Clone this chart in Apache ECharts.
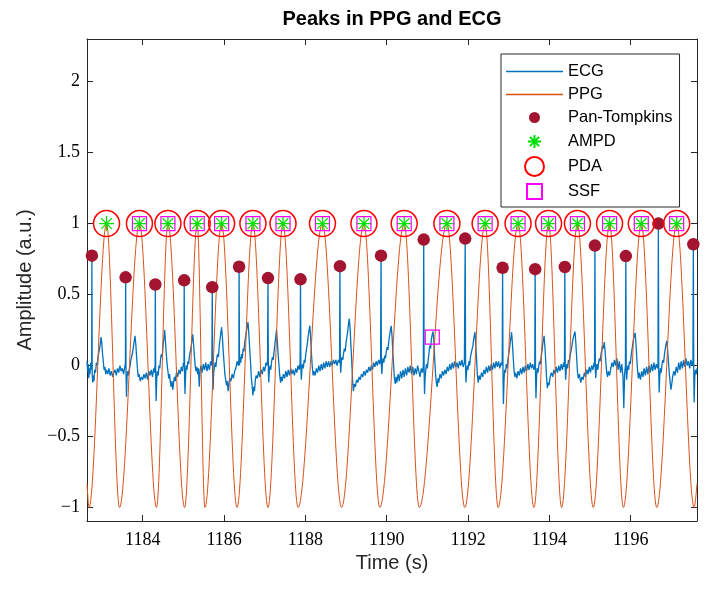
<!DOCTYPE html>
<html>
<head>
<meta charset="utf-8">
<script src="https://cdn.jsdelivr.net/npm/echarts@6/dist/echarts.min.js"></script>
<style>
html, body { margin: 0; padding: 0; background: #fff; }
#main { width: 711px; height: 590px; }
</style>
</head>
<body>
<div id="main"></div>
<script>
// axis ranges (s, a.u.)
const timeRange = [1182.63, 1197.63];
const ampRange = [-1.095, 2.3];

// Pan-Tompkins R peaks
const rPeakTimes = [1182.75, 1183.58, 1184.31, 1185.02, 1185.71, 1186.37, 1187.08, 1187.88, 1188.85, 1189.86,
    1190.91, 1191.93, 1192.85, 1193.65, 1194.38, 1195.12, 1195.88, 1196.68, 1197.54];
const rPeakValues = [0.774, 0.621, 0.571, 0.60, 0.552, 0.696, 0.616, 0.607, 0.70, 0.774,
    0.887, 0.894, 0.689, 0.679, 0.694, 0.845, 0.771, 1.0, 0.854];

// PPG peaks (AMPD / PDA / SSF) and troughs
const ppgPeakTimes = [1183.11, 1183.92, 1184.62, 1185.34, 1185.94, 1186.71, 1187.45, 1188.42, 1189.44,
    1190.43, 1191.48, 1192.42, 1193.23, 1193.98, 1194.69, 1195.48, 1196.26, 1197.13];
const ppgTroughTimes = [1182.68, 1183.43, 1184.34, 1185.03, 1185.53, 1186.32, 1187.08, 1187.82, 1188.89, 1189.83,
    1190.80, 1191.92, 1192.74, 1193.62, 1194.30, 1195.08, 1195.82, 1196.64, 1197.56];
const ppgPeakValue = 1;
const ppgTroughValue = -1;
const ppgEdgeValues = [-0.83, -0.83];

// SSF misses the first peak and picks one point on a T wave
const ssfExtra = [[1191.12, 0.2]];

// ECG trace [time, amplitude]
const ecgSignal = [
    [1182.63, 0.03], [1182.645, -0.04], [1182.66, 0.01], [1182.675, -0.09], [1182.69, -0.02], [1182.705, -0.06], [1182.72, 0.02], [1182.735, -0.03], [1182.745, 0.05],
    [1182.75, 0.774], [1182.758, -0.06], [1182.77, -0.12], [1182.785, -0.07], [1182.80, -0.11], [1182.82, -0.03], [1182.84, -0.05], [1182.86, 0.02], [1182.88, 0.0], [1182.90, 0.06], [1182.92, 0.05], [1182.94, 0.12], [1182.96, 0.16], [1182.975, 0.20], [1182.99, 0.17], [1183.01, 0.09], [1183.03, 0.03], [1183.05, -0.03], [1183.07, -0.01], [1183.09, -0.06], [1183.11, -0.03], [1183.14, -0.06], [1183.17, -0.02], [1183.20, -0.07], [1183.23, -0.04], [1183.26, -0.08], [1183.29, -0.05], [1183.32, -0.03], [1183.35, -0.07], [1183.38, -0.02], [1183.41, -0.05], [1183.44, 0.0], [1183.47, -0.04], [1183.50, -0.02], [1183.53, -0.06], [1183.56, -0.01], [1183.575, 0.02],
    [1183.58, 0.621], [1183.59, -0.05], [1183.60, -0.22], [1183.615, -0.08], [1183.63, -0.04], [1183.65, -0.07], [1183.67, -0.03], [1183.69, 0.0], [1183.71, 0.04], [1183.73, 0.03], [1183.75, 0.09], [1183.77, 0.13], [1183.79, 0.17], [1183.81, 0.21], [1183.83, 0.15], [1183.85, 0.06], [1183.87, -0.02], [1183.89, -0.08], [1183.91, -0.06], [1183.94, -0.11], [1183.97, -0.08], [1184.00, -0.10], [1184.03, -0.06], [1184.06, -0.09], [1184.09, -0.05], [1184.12, -0.10], [1184.15, -0.04], [1184.18, -0.07], [1184.21, -0.03], [1184.24, -0.08], [1184.27, -0.02], [1184.29, -0.05], [1184.305, 0.01],
    [1184.31, 0.571], [1184.32, -0.10], [1184.33, -0.25], [1184.345, -0.09], [1184.36, -0.04], [1184.38, -0.07], [1184.40, 0.0], [1184.42, -0.02], [1184.44, 0.05], [1184.46, 0.08], [1184.48, 0.06], [1184.50, 0.14], [1184.52, 0.19], [1184.54, 0.25], [1184.56, 0.17], [1184.58, 0.08], [1184.60, 0.01], [1184.62, -0.04], [1184.64, -0.09], [1184.66, -0.06], [1184.68, -0.12], [1184.70, -0.15], [1184.72, -0.11], [1184.74, -0.17], [1184.76, -0.12], [1184.78, -0.08], [1184.80, -0.11], [1184.83, -0.05], [1184.86, -0.08], [1184.89, -0.03], [1184.92, -0.06], [1184.95, -0.01], [1184.98, -0.04], [1185.00, 0.02], [1185.015, -0.01],
    [1185.02, 0.60], [1185.03, -0.08], [1185.04, -0.20], [1185.055, -0.06], [1185.07, 0.0], [1185.09, -0.03], [1185.11, 0.03], [1185.13, 0.01], [1185.15, 0.07], [1185.17, 0.10], [1185.19, 0.13], [1185.21, 0.18], [1185.23, 0.22], [1185.25, 0.15], [1185.27, 0.07], [1185.29, 0.0], [1185.31, -0.04], [1185.33, -0.01], [1185.35, -0.06], [1185.37, -0.02], [1185.39, -0.15], [1185.41, -0.04], [1185.43, 0.0], [1185.46, -0.05], [1185.49, 0.01], [1185.52, -0.03], [1185.55, 0.02], [1185.58, -0.04], [1185.61, 0.01], [1185.64, -0.03], [1185.67, 0.03], [1185.70, 0.0],
    [1185.71, 0.552], [1185.72, -0.06], [1185.73, -0.17], [1185.745, -0.05], [1185.76, -0.02], [1185.78, 0.02], [1185.80, -0.01], [1185.82, 0.05], [1185.84, 0.08], [1185.86, 0.06], [1185.88, 0.13], [1185.90, 0.18], [1185.92, 0.23], [1185.94, 0.27], [1185.96, 0.20], [1185.98, 0.10], [1186.00, 0.02], [1186.02, -0.06], [1186.04, -0.10], [1186.06, -0.14], [1186.08, -0.11], [1186.10, -0.18], [1186.12, -0.13], [1186.14, -0.09], [1186.17, -0.11], [1186.20, -0.06], [1186.23, -0.09], [1186.26, -0.04], [1186.29, -0.02], [1186.32, 0.03], [1186.35, 0.0], [1186.365, 0.04],
    [1186.37, 0.696], [1186.38, 0.0], [1186.39, 0.06], [1186.41, 0.02], [1186.43, 0.08], [1186.45, 0.05], [1186.47, 0.12], [1186.49, 0.10], [1186.51, 0.17], [1186.53, 0.20], [1186.55, 0.24], [1186.57, 0.28], [1186.59, 0.305], [1186.61, 0.22], [1186.63, 0.12], [1186.65, 0.03], [1186.67, -0.08], [1186.69, -0.14], [1186.71, -0.21], [1186.73, -0.15], [1186.75, -0.18], [1186.77, -0.10], [1186.79, -0.07], [1186.82, -0.09], [1186.85, -0.04], [1186.88, -0.08], [1186.91, -0.03], [1186.94, -0.06], [1186.97, -0.01], [1187.00, -0.04], [1187.03, 0.02], [1187.05, 0.0], [1187.07, 0.03],
    [1187.08, 0.616], [1187.09, -0.04], [1187.10, -0.12], [1187.115, -0.03], [1187.13, 0.0], [1187.15, -0.03], [1187.17, 0.03], [1187.19, 0.06], [1187.21, 0.04], [1187.23, 0.10], [1187.25, 0.15], [1187.27, 0.20], [1187.29, 0.25], [1187.31, 0.17], [1187.33, 0.08], [1187.35, 0.0], [1187.37, -0.07], [1187.39, -0.12], [1187.41, -0.08], [1187.43, -0.11], [1187.46, -0.06], [1187.49, -0.09], [1187.52, -0.04], [1187.55, -0.08], [1187.58, -0.03], [1187.61, -0.07], [1187.64, -0.02], [1187.67, -0.06], [1187.70, -0.03], [1187.73, -0.07], [1187.76, -0.02], [1187.79, -0.05], [1187.82, 0.0], [1187.85, -0.03], [1187.87, 0.02],
    [1187.88, 0.607], [1187.89, -0.02], [1187.90, -0.10], [1187.915, -0.02], [1187.93, 0.01], [1187.95, -0.02], [1187.97, 0.04], [1187.99, 0.02], [1188.01, 0.08], [1188.03, 0.12], [1188.05, 0.16], [1188.07, 0.21], [1188.09, 0.25], [1188.11, 0.28], [1188.13, 0.19], [1188.15, 0.08], [1188.17, -0.01], [1188.19, -0.07], [1188.21, -0.04], [1188.24, -0.07], [1188.27, -0.02], [1188.30, -0.05], [1188.33, 0.0], [1188.36, -0.04], [1188.39, 0.01], [1188.42, -0.03], [1188.45, 0.02], [1188.48, -0.02], [1188.51, 0.03], [1188.54, -0.01], [1188.57, 0.03], [1188.60, -0.01], [1188.63, 0.03], [1188.66, 0.0], [1188.69, 0.04], [1188.72, 0.01], [1188.75, 0.04], [1188.78, 0.0], [1188.81, 0.04], [1188.84, 0.02],
    [1188.85, 0.70], [1188.86, 0.02], [1188.87, -0.05], [1188.885, 0.03], [1188.90, 0.06], [1188.92, 0.04], [1188.94, 0.09], [1188.96, 0.12], [1188.98, 0.10], [1189.00, 0.16], [1189.02, 0.20], [1189.04, 0.24], [1189.06, 0.29], [1189.08, 0.33], [1189.10, 0.26], [1189.12, 0.14], [1189.14, 0.03], [1189.16, -0.10], [1189.18, -0.18], [1189.20, -0.13], [1189.23, -0.15], [1189.26, -0.10], [1189.29, -0.12], [1189.32, -0.08], [1189.35, -0.10], [1189.38, -0.06], [1189.41, -0.08], [1189.44, -0.04], [1189.47, -0.07], [1189.50, -0.03], [1189.53, -0.05], [1189.56, -0.01], [1189.59, -0.04], [1189.62, 0.0], [1189.65, -0.03], [1189.68, 0.02], [1189.71, -0.01], [1189.74, 0.03], [1189.77, 0.0], [1189.80, 0.04], [1189.83, 0.01], [1189.85, 0.05],
    [1189.86, 0.774], [1189.87, 0.0], [1189.88, -0.06], [1189.895, 0.02], [1189.91, 0.05], [1189.93, 0.02], [1189.95, 0.07], [1189.97, 0.05], [1189.99, 0.10], [1190.01, 0.13], [1190.03, 0.11], [1190.05, 0.17], [1190.07, 0.21], [1190.09, 0.25], [1190.11, 0.28], [1190.13, 0.21], [1190.15, 0.10], [1190.17, 0.0], [1190.19, -0.09], [1190.21, -0.13], [1190.23, -0.08], [1190.25, -0.12], [1190.28, -0.06], [1190.31, -0.11], [1190.34, -0.04], [1190.37, -0.09], [1190.40, -0.03], [1190.43, -0.08], [1190.46, -0.02], [1190.49, -0.07], [1190.52, -0.01], [1190.55, -0.05], [1190.58, 0.0], [1190.61, -0.06], [1190.64, -0.01], [1190.67, -0.07], [1190.70, -0.02], [1190.73, -0.06], [1190.76, 0.0], [1190.79, -0.04], [1190.82, -0.08], [1190.85, -0.02], [1190.88, -0.05], [1190.90, 0.0],
    [1190.91, 0.887], [1190.92, -0.05], [1190.93, -0.20], [1190.945, -0.08], [1190.96, -0.03], [1190.98, 0.01], [1191.00, -0.02], [1191.02, 0.04], [1191.04, 0.09], [1191.06, 0.14], [1191.08, 0.12], [1191.10, 0.19], [1191.12, 0.22], [1191.14, 0.24], [1191.16, 0.17], [1191.18, 0.05], [1191.20, -0.06], [1191.22, -0.12], [1191.24, -0.15], [1191.26, -0.09], [1191.28, -0.12], [1191.31, -0.06], [1191.34, -0.09], [1191.37, -0.04], [1191.40, -0.07], [1191.43, -0.03], [1191.46, -0.06], [1191.49, -0.01], [1191.52, -0.04], [1191.55, 0.01], [1191.58, -0.03], [1191.61, 0.02], [1191.64, -0.02], [1191.67, 0.03], [1191.70, -0.01], [1191.73, 0.02], [1191.76, -0.02], [1191.79, 0.03], [1191.82, 0.0], [1191.85, 0.04], [1191.88, -0.01], [1191.91, 0.02],
    [1191.93, 0.894], [1191.94, -0.03], [1191.95, -0.12], [1191.965, -0.04], [1191.98, 0.0], [1192.00, -0.03], [1192.02, 0.03], [1192.04, 0.0], [1192.06, 0.06], [1192.08, 0.09], [1192.10, 0.08], [1192.12, 0.14], [1192.14, 0.19], [1192.17, 0.235], [1192.19, 0.15], [1192.21, 0.04], [1192.23, -0.07], [1192.25, -0.12], [1192.27, -0.07], [1192.30, -0.10], [1192.33, -0.05], [1192.36, -0.08], [1192.39, -0.03], [1192.42, -0.06], [1192.45, -0.01], [1192.48, -0.05], [1192.51, 0.0], [1192.54, -0.04], [1192.57, 0.01], [1192.60, -0.03], [1192.63, 0.02], [1192.66, -0.02], [1192.69, 0.03], [1192.72, -0.01], [1192.75, 0.03], [1192.78, -0.02], [1192.81, 0.02], [1192.84, 0.0],
    [1192.85, 0.689], [1192.86, -0.08], [1192.87, -0.27], [1192.885, -0.10], [1192.90, -0.03], [1192.92, -0.05], [1192.94, 0.01], [1192.96, -0.02], [1192.98, 0.04], [1193.00, 0.08], [1193.02, 0.12], [1193.04, 0.17], [1193.06, 0.21], [1193.07, 0.235], [1193.09, 0.16], [1193.11, 0.06], [1193.13, -0.03], [1193.15, -0.08], [1193.17, -0.05], [1193.20, -0.09], [1193.23, -0.04], [1193.26, -0.07], [1193.29, -0.02], [1193.32, -0.06], [1193.35, -0.01], [1193.38, -0.05], [1193.41, 0.0], [1193.44, -0.04], [1193.47, 0.01], [1193.50, -0.03], [1193.53, 0.02], [1193.56, -0.02], [1193.59, 0.01], [1193.62, -0.03], [1193.64, 0.0],
    [1193.65, 0.679], [1193.66, -0.07], [1193.67, -0.23], [1193.685, -0.08], [1193.70, -0.02], [1193.72, -0.05], [1193.74, 0.0], [1193.76, 0.03], [1193.78, 0.01], [1193.80, 0.07], [1193.82, 0.11], [1193.84, 0.16], [1193.86, 0.19], [1193.87, 0.21], [1193.89, 0.13], [1193.91, 0.03], [1193.93, -0.08], [1193.95, -0.16], [1193.97, -0.12], [1193.99, -0.14], [1194.02, -0.08], [1194.05, -0.05], [1194.08, -0.08], [1194.11, -0.03], [1194.14, -0.06], [1194.17, -0.01], [1194.20, -0.05], [1194.23, 0.0], [1194.26, -0.04], [1194.29, 0.01], [1194.32, -0.03], [1194.35, 0.02], [1194.37, -0.01],
    [1194.38, 0.694], [1194.39, -0.02], [1194.40, -0.10], [1194.415, -0.03], [1194.43, 0.01], [1194.45, -0.02], [1194.47, 0.04], [1194.49, 0.02], [1194.51, 0.07], [1194.53, 0.10], [1194.55, 0.13], [1194.57, 0.17], [1194.59, 0.20], [1194.61, 0.22], [1194.63, 0.24], [1194.65, 0.16], [1194.67, 0.06], [1194.69, -0.04], [1194.71, -0.09], [1194.74, -0.06], [1194.77, -0.12], [1194.80, -0.08], [1194.83, -0.10], [1194.86, -0.05], [1194.89, -0.08], [1194.92, -0.03], [1194.95, -0.06], [1194.98, -0.01], [1195.01, -0.05], [1195.04, 0.0], [1195.07, -0.03], [1195.10, 0.02], [1195.11, -0.01],
    [1195.12, 0.845], [1195.13, -0.03], [1195.14, -0.09], [1195.155, -0.02], [1195.17, 0.01], [1195.19, -0.03], [1195.21, 0.02], [1195.23, 0.05], [1195.25, 0.03], [1195.27, 0.08], [1195.29, 0.11], [1195.31, 0.14], [1195.33, 0.12], [1195.35, 0.165], [1195.37, 0.10], [1195.39, 0.02], [1195.41, -0.05], [1195.43, -0.08], [1195.45, -0.04], [1195.48, -0.07], [1195.51, -0.02], [1195.54, 0.02], [1195.57, -0.01], [1195.60, 0.04], [1195.63, 0.0], [1195.66, 0.05], [1195.69, -0.03], [1195.72, 0.03], [1195.75, -0.05], [1195.78, 0.01], [1195.81, -0.08], [1195.83, -0.30], [1195.85, -0.06], [1195.87, 0.0],
    [1195.88, 0.771], [1195.89, -0.04], [1195.90, -0.10], [1195.915, -0.03], [1195.93, 0.0], [1195.95, -0.03], [1195.97, 0.03], [1195.99, 0.01], [1196.01, 0.07], [1196.03, 0.11], [1196.05, 0.15], [1196.07, 0.19], [1196.09, 0.21], [1196.11, 0.23], [1196.13, 0.15], [1196.15, 0.05], [1196.17, -0.04], [1196.19, -0.09], [1196.21, -0.05], [1196.24, -0.10], [1196.27, -0.04], [1196.30, -0.08], [1196.33, -0.02], [1196.36, -0.07], [1196.39, -0.01], [1196.42, -0.06], [1196.45, 0.0], [1196.48, -0.05], [1196.51, 0.01], [1196.54, -0.04], [1196.57, 0.02], [1196.60, -0.03], [1196.63, 0.01], [1196.66, -0.02], [1196.67, 0.02],
    [1196.68, 1.0], [1196.69, -0.06], [1196.70, -0.19], [1196.715, -0.07], [1196.73, -0.02], [1196.75, -0.05], [1196.77, 0.01], [1196.79, 0.04], [1196.81, 0.02], [1196.83, 0.08], [1196.85, 0.12], [1196.87, 0.15], [1196.89, 0.175], [1196.91, 0.10], [1196.93, 0.02], [1196.95, -0.06], [1196.97, -0.12], [1196.99, -0.17], [1197.01, -0.13], [1197.03, -0.08], [1197.06, -0.04], [1197.09, -0.07], [1197.12, -0.01], [1197.15, -0.05], [1197.18, 0.02], [1197.21, -0.03], [1197.24, 0.03], [1197.27, -0.02], [1197.30, 0.04], [1197.33, -0.01], [1197.36, 0.05], [1197.39, 0.0], [1197.42, 0.03], [1197.45, -0.02], [1197.48, 0.04], [1197.51, 0.0], [1197.53, 0.03],
    [1197.54, 0.854], [1197.55, -0.05], [1197.56, -0.26], [1197.575, -0.08], [1197.59, -0.03], [1197.61, -0.06], [1197.63, -0.02]
];

// build PPG points: edges, troughs and peaks in time order
const ppgPoints = [[timeRange[0], ppgEdgeValues[0]]]
    .concat(ppgTroughTimes.map(t => [t, ppgTroughValue]))
    .concat(ppgPeakTimes.map(t => [t, ppgPeakValue]))
    .concat([[timeRange[1], ppgEdgeValues[1]]])
    .sort((a, b) => a[0] - b[0]);

const panTompkins = rPeakTimes.map((t, i) => [t, rPeakValues[i]]);
const ampd = ppgPeakTimes.map(t => [t, ppgPeakValue]);
const pda = ppgPeakTimes.map(t => [t, ppgPeakValue]);
const ssf = ppgPeakTimes.slice(1).map(t => [t, ppgPeakValue]).concat(ssfExtra);

const axisColor = '#262626';
const serif = 'Liberation Serif';
const sans = 'Liberation Sans';

const asteriskPath = 'path://M0,-10L0,10M-10,0L10,0M-7.07,-7.07L7.07,7.07M-7.07,7.07L7.07,-7.07';
// legend icons padded to a 19px box so they keep their relative sizes
const legendLine = 'path://M0,0L57,0L57,1.3L0,1.3Z';
const legendDot = 'path://M-9.5,-9.5M9.5,9.5M-5.5,0A5.5,5.5,0,1,1,5.5,0A5.5,5.5,0,1,1,-5.5,0Z';
const legendStar = 'path://M-9.5,-9.5M9.5,9.5M0,-6.5L0,6.5M-6.5,0L6.5,0M-4.6,-4.6L4.6,4.6M-4.6,4.6L4.6,-4.6';
const legendSquare = 'path://M-9.5,-9.5M9.5,9.5M-7.5,-7.5L7.5,-7.5L7.5,7.5L-7.5,7.5Z';

function yLabel(v) {
    return (v < 0 ? '\u2212' : '') + Math.abs(v);
}

function makeX(pos, showLabel) {
    return {
        type: 'value', position: pos, min: timeRange[0], max: timeRange[1], splitNumber: 7,
        axisLine: { show: true, onZero: false, lineStyle: { color: axisColor, width: 1 } },
        axisTick: { show: true, inside: true, length: 6, lineStyle: { color: axisColor } },
        axisLabel: {
            show: showLabel, showMinLabel: false, showMaxLabel: false, margin: 10,
            fontFamily: serif, fontSize: 18, color: '#000', formatter: v => String(v)
        },
        splitLine: { show: false }
    };
}

function makeY(pos, showLabel) {
    return {
        type: 'value', position: pos, min: ampRange[0], max: ampRange[1], splitNumber: 7,
        axisLine: { show: true, onZero: false, lineStyle: { color: axisColor, width: 1 } },
        axisTick: { show: true, inside: true, length: 6, lineStyle: { color: axisColor } },
        axisLabel: {
            show: showLabel, showMinLabel: false, showMaxLabel: false, margin: 7,
            fontFamily: serif, fontSize: 18, color: '#000', formatter: yLabel
        },
        splitLine: { show: false }
    };
}

const chart = echarts.init(document.getElementById('main'), null, { renderer: 'canvas' });

const xBottom = makeX('bottom', true);
xBottom.name = 'Time (s)';
xBottom.nameLocation = 'middle';
xBottom.nameGap = 27;
xBottom.nameTextStyle = { fontFamily: sans, fontSize: 20, color: '#262626' };

const yLeft = makeY('left', true);
yLeft.name = 'Amplitude (a.u.)';
yLeft.nameLocation = 'middle';
yLeft.nameGap = 52;
yLeft.nameTextStyle = { fontFamily: sans, fontSize: 20, color: '#262626' };

chart.setOption({
    animation: false,
    backgroundColor: '#fff',
    title: {
        text: 'Peaks in PPG and ECG',
        left: 392, top: 9, padding: 0, textAlign: 'center',
        textStyle: { fontFamily: sans, fontSize: 20, fontWeight: 'bold', color: '#000' }
    },
    grid: { left: 87, right: 14, top: 39, bottom: 69, containLabel: false },
    xAxis: [xBottom, makeX('top', false)],
    yAxis: [yLeft, makeY('right', false)],
    legend: {
        orient: 'vertical',
        left: 501, top: 54,
        padding: [8, 7, 5, 5],
        itemWidth: 57, itemHeight: 19, itemGap: 4,
        backgroundColor: '#fff',
        borderColor: axisColor, borderWidth: 1,
        textStyle: { fontFamily: sans, fontSize: 16.5, color: '#000', lineHeight: 19 },
        data: [
            { name: 'ECG', icon: legendLine },
            { name: 'PPG', icon: legendLine },
            { name: 'Pan-Tompkins', icon: legendDot },
            { name: 'AMPD', icon: legendStar },
            { name: 'PDA', icon: 'circle' },
            { name: 'SSF', icon: legendSquare }
        ]
    },
    series: [
        {
            name: 'ECG', type: 'line', data: ecgSignal, symbol: 'none',
            lineStyle: { color: '#0072BD', width: 1.3 }, itemStyle: { color: '#0072BD' }, z: 2
        },
        {
            name: 'PPG', type: 'line', data: ppgPoints, symbol: 'none',
            smooth: 0.35, smoothMonotone: 'x',
            lineStyle: { color: '#D95319', width: 1 }, itemStyle: { color: '#D95319' }, z: 3
        },
        {
            name: 'Pan-Tompkins', type: 'scatter', data: panTompkins, symbol: 'circle', symbolSize: 12.5,
            itemStyle: { color: '#A2142F', opacity: 1 }, z: 4
        },
        {
            name: 'AMPD', type: 'scatter', data: ampd, symbol: asteriskPath, symbolSize: 15,
            itemStyle: { color: 'rgba(0,0,0,0)', borderColor: '#00E000', borderWidth: 1.2, opacity: 1 }, z: 5
        },
        {
            name: 'PDA', type: 'scatter', data: pda, symbol: 'circle', symbolSize: 26,
            itemStyle: { color: 'rgba(0,0,0,0)', borderColor: '#FF0000', borderWidth: 1.5, opacity: 1 }, z: 5
        },
        {
            name: 'SSF', type: 'scatter', data: ssf, symbol: 'rect', symbolSize: 14,
            itemStyle: { color: 'rgba(0,0,0,0)', borderColor: '#FF00FF', borderWidth: 1.2, opacity: 1 }, z: 5
        }
    ]
});
</script>
</body>
</html>
